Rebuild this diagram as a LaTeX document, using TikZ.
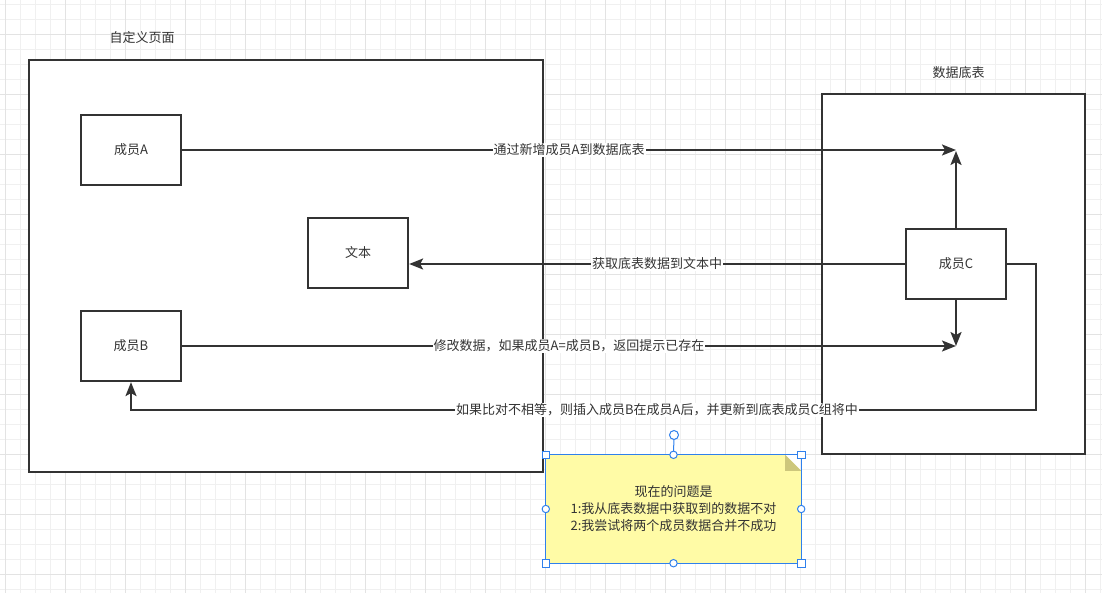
\documentclass[tikz,border=0pt]{standalone}
\usepackage{fontspec}
\newfontfamily\cjk{Noto Sans CJK SC}
\usetikzlibrary{arrows.meta}
\definecolor{ln}{HTML}{333333}
\definecolor{selblue}{HTML}{2F80ED}
\definecolor{notefill}{HTML}{FFFBA6}
\definecolor{foldfill}{HTML}{CDC77C}
\tikzset{
  minorgrid/.style={gray!12, line width=1pt},
  majorgrid/.style={gray!22, line width=1pt},
  box/.style={draw=ln, line width=2.2pt, fill=white, minimum width=100pt, minimum height=70pt, inner sep=0pt, text=ln},
  outer/.style={draw=ln, line width=2.2pt, inner sep=0pt},
  arr/.style={draw=ln, line width=2.2pt, -{Stealth[length=14pt,width=11pt,inset=3pt]}},
  lbl/.style={fill=white, inner sep=1pt, text=ln},
  title/.style={inner sep=0pt, text=ln},
  handle/.style={draw=selblue, fill=white, line width=1pt},
}
\begin{document}
\begin{tikzpicture}[x=1pt, y=-1pt, every node/.style={font=\cjk\fontsize{13}{17}\selectfont}]
\useasboundingbox (0,0) rectangle (1102,593);
\fill[white] (0,0) rectangle (1102,593);
% grid
\foreach \x in {5.7,20.7,...,1102} \draw[minorgrid] (\x,0) -- (\x,593);
\foreach \y in {4.3,19.3,...,593} \draw[minorgrid] (0,\y) -- (1102,\y);
\foreach \x in {5.7,65.7,...,1102} \draw[majorgrid] (\x,0) -- (\x,593);
\foreach \y in {34.3,94.3,...,593} \draw[majorgrid] (0,\y) -- (1102,\y);

% outer containers
\node[outer, fill=white, minimum width=514pt, minimum height=412pt] (page) at (286,266) {};
\node[title] (pagetitle) at (142,38) {自定义页面};
\node[outer, fill=white, minimum width=263pt, minimum height=360pt] (table) at (953.5,274) {};
\node[title] (tabletitle) at (958.5,73) {数据底表};

% inner boxes
\node[box] (A) at (131,150) {成员A};
\node[box] (T) at (358,253) {文本};
\node[box] (B) at (131,346) {成员B};
\node[box] (C) at (956,264) {成员C};

\coordinate (t1) at (956,151);
\coordinate (t2) at (956,346);
\coordinate (k1) at (1036,410);

\draw[arr] (A.east) -- node[lbl] {通过新增成员A到数据底表} (A.east -| t1);
\draw[arr] (C.north) -- (t1);
\draw[arr] (C.west) -- node[lbl] {获取底表数据到文本中} (C.west -| T.east);
\draw[arr] (B.east) -- node[lbl] {修改数据，如果成员A=成员B，返回提示已存在} (t2);
\draw[arr] (C.south) -- (t2);
\draw[arr] (C.east) -| (k1) -| (B.south);
\node[lbl] (l4) at (657,410) {如果比对不相等，则插入成员B在成员A后，并更新到底表成员C组将中};

% note
\node[minimum width=255pt, minimum height=108pt, inner sep=0pt, align=center, text=ln] (note) at (673.5,509) {};
\fill[notefill] (note.north west) -- ([xshift=-16pt]note.north east) -- ([yshift=-16pt]note.north east) -- (note.south east) -- (note.south west) -- cycle;
\fill[foldfill] ([xshift=-16pt]note.north east) -- ([yshift=-16pt]note.north east) -- ([xshift=-16pt,yshift=-16pt]note.north east) -- cycle;
\node[align=center, text=ln, inner sep=0pt] (notetext) at (673.5,509) {现在的问题是\\1:我从底表数据中获取到的数据不对\\2:我尝试将两个成员数据合并不成功};
\draw[selblue, line width=1pt] (note.north west) rectangle (note.south east);
\coordinate (rot) at (674,435);
\draw[selblue, line width=1pt] (rot) -- (note.north);
\draw[handle] (rot) circle (4.5pt);
\foreach \a in {north west, north east, south west, south east}
  \draw[handle] ([xshift=-3.8pt,yshift=-3.8pt]note.\a) rectangle ([xshift=3.8pt,yshift=3.8pt]note.\a);
\foreach \a in {north, south, east, west}
  \draw[handle] (note.\a) circle (3.7pt);
\end{tikzpicture}
\end{document}
